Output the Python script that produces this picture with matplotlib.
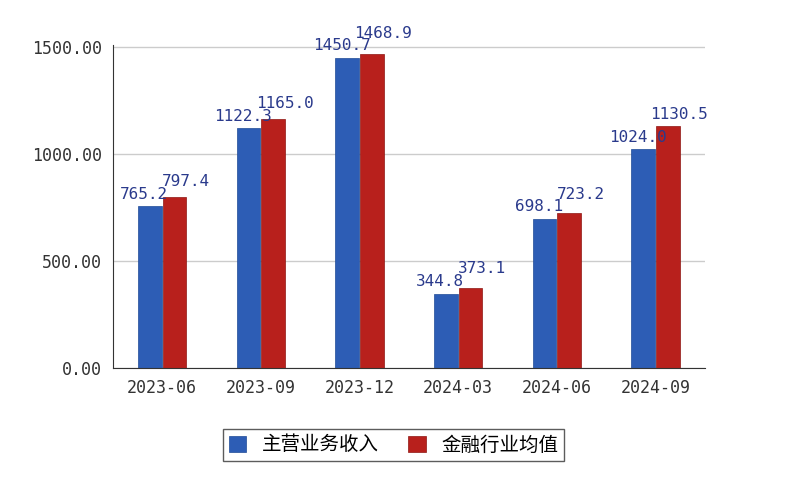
import matplotlib.pyplot as plt
import numpy as np

categories = ['2023-06', '2023-09', '2023-12', '2024-03', '2024-06', '2024-09']
main_income = [755.2, 1122.3, 1450.7, 347.8, 698.1, 1024.0]
industry_avg = [797.4, 1165.0, 1468.9, 373.1, 723.2, 1130.5]
main_labels = ['765.2', '1122.3', '1450.7', '344.8', '698.1', '1024.0']
avg_labels = ['797.4', '1165.0', '1468.9', '373.1', '723.2', '1130.5']

plt.rcParams['font.family'] = ['Noto Sans CJK SC', 'DejaVu Sans']
fig = plt.figure(figsize=(8, 5), dpi=100)
ax = fig.add_axes([0.141, 0.264, 0.74, 0.646])

x = np.arange(len(categories))
w = 0.24
ax.bar(x - w / 2 - 0.005, main_income, w, color='#2d5db5', edgecolor='#1f4a96', linewidth=0.5, label='主营业务收入')
ax.bar(x + w / 2 + 0.005, industry_avg, w, color='#b8201c', edgecolor='#8e1512', linewidth=0.5, label='金融行业均值')

# labels sit above each bar, nudged apart a little so pairs stay readable
for i in range(len(categories)):
    ax.text(x[i] - w / 2 - 0.06, main_income[i] + 20, main_labels[i], ha='center', va='bottom',
            fontsize=11.5, color='#2a3a8c', family='DejaVu Sans Mono', clip_on=False)
    ax.text(x[i] + w / 2 + 0.12, max(industry_avg[i], main_income[i] + 60) + 20, avg_labels[i],
            ha='center', va='bottom', fontsize=11.5, color='#2a3a8c',
            family='DejaVu Sans Mono', clip_on=False)

ax.set_xlim(-0.5, 5.5)
ax.set_ylim(0, 1510)
ax.set_yticks([0, 500, 1000, 1500])
ax.set_yticklabels(['0.00', '500.00', '1000.00', '1500.00'], family='DejaVu Sans Mono', fontsize=12, color='#333333')
ax.set_xticks(x)
ax.set_xticklabels(categories, family='DejaVu Sans Mono', fontsize=12, color='#333333')
ax.tick_params(length=0, pad=8)
ax.yaxis.grid(True, color='#cccccc', linewidth=1)
ax.set_axisbelow(True)
for s in ['top', 'right']:
    ax.spines[s].set_visible(False)
ax.spines['left'].set_color('#333333')
ax.spines['bottom'].set_color('#333333')

leg = fig.legend(loc='center', bbox_to_anchor=(0.492, 0.11), ncol=2, fontsize=14,
                 frameon=True, fancybox=False, edgecolor='#333333', handlelength=0.9,
                 handleheight=0.9, columnspacing=1.5, borderpad=0.3)
fig.savefig('out.png')
